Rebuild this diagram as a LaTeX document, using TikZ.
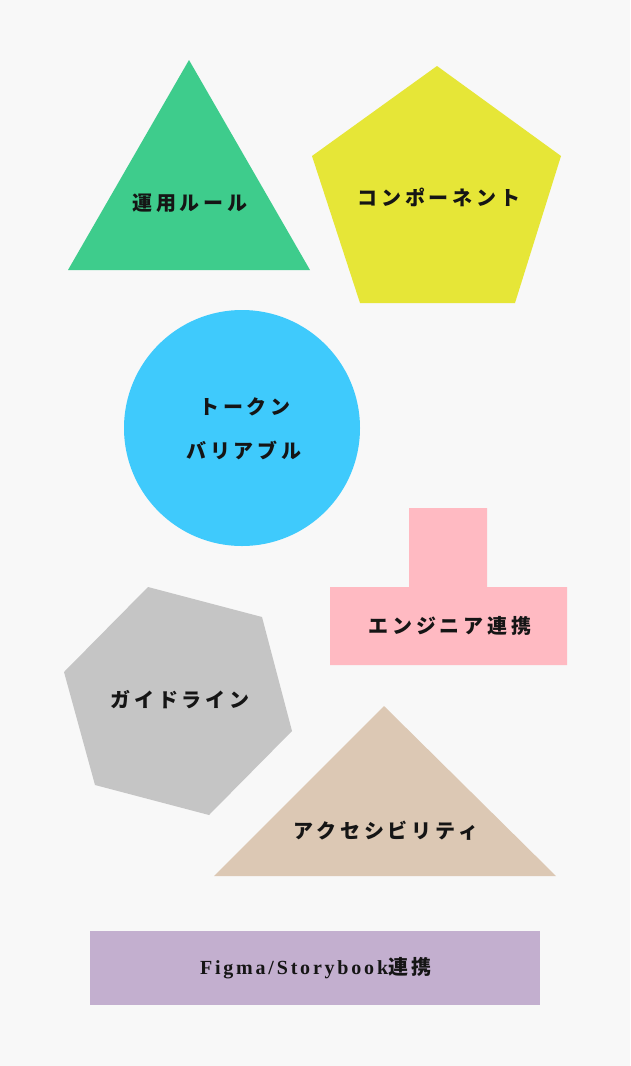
\documentclass[tikz,border=0pt]{standalone}
\usepackage{fontspec}
\newfontfamily\jp[LetterSpace=19]{Noto Sans CJK JP}
\newfontfamily\lat[LetterSpace=14]{Liberation Serif}
\definecolor{bg}{HTML}{F8F8F8}
\definecolor{cgreen}{HTML}{3ECC8C}
\definecolor{cyellow}{HTML}{E6E637}
\definecolor{cblue}{HTML}{3FCAFC}
\definecolor{cpink}{HTML}{FFBAC2}
\definecolor{cgray}{HTML}{C5C5C5}
\definecolor{ctan}{HTML}{DCC8B4}
\definecolor{cpurple}{HTML}{C3AFCF}
\definecolor{ink}{HTML}{151515}
\begin{document}
\begin{tikzpicture}[x=1pt,y=-1pt,
  lbl/.style={text=ink,font=\jp\bfseries\fontsize{20}{24}\selectfont,inner sep=0pt,align=center}]
\fill[bg] (0,0) rectangle (630,1066);
\useasboundingbox (0,0) rectangle (630,1066);
% green triangle
\fill[cgreen] (189,60) -- (310,270) -- (68,270) -- cycle;
% yellow pentagon
\fill[cyellow] (437,66) -- (561,156) -- (515,303) -- (360,303) -- (312,156) -- cycle;
% blue circle
\fill[cblue] (242,428) circle[radius=118];
% pink T
\fill[cpink] (409,508) -- (487,508) -- (487,587) -- (567,587) -- (567,665) -- (330,665) -- (330,587) -- (409,587) -- cycle;
% gray hexagon
\fill[cgray] (148,587) -- (262,617) -- (292,731) -- (209,815) -- (95,785) -- (64,672) -- cycle;
% tan triangle
\fill[ctan] (384,706) -- (556,876) -- (214,876) -- cycle;
% purple rectangle
\fill[cpurple] (90,931) rectangle (540,1005);
% labels
\node[lbl] (rules) at (190,203) {運用ルール};
\node[lbl] (comp) at (439,197) {コンポーネント};
\node[lbl] (tok1) at (245,407) {トークン};
\node[lbl] (tok2) at (244,450) {バリアブル};
\node[lbl] (eng) at (450,626) {エンジニア連携};
\node[lbl] (guide) at (180,700) {ガイドライン};
\node[lbl] (a11y) at (386,831) {アクセシビリティ};
\node[lbl] (figma) at (316,968) {{\lat\bfseries Figma/Storybook}連携};
\end{tikzpicture}
\end{document}
